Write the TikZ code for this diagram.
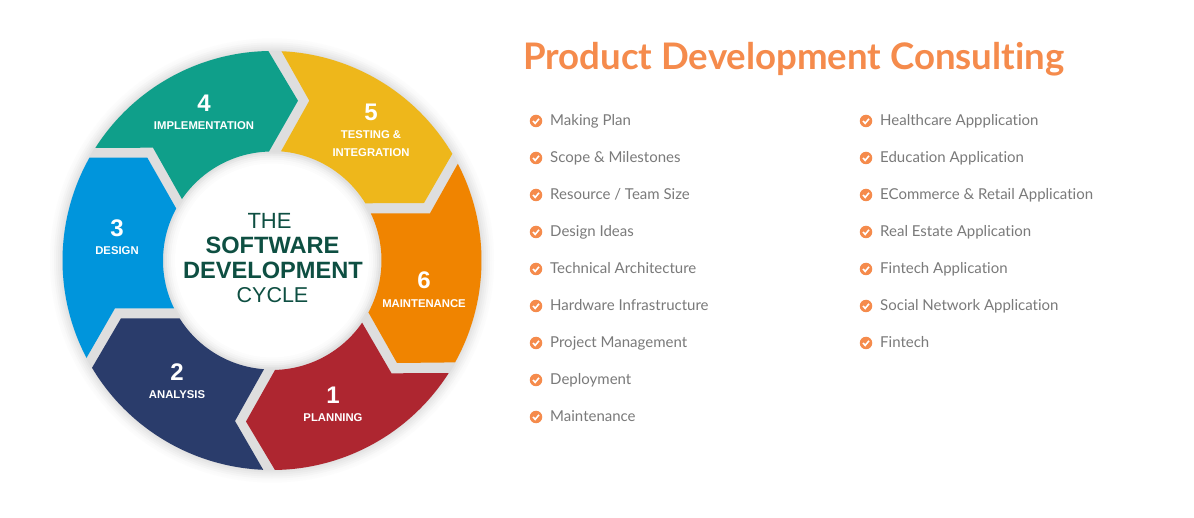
\documentclass[tikz,border=0pt]{standalone}
\usepackage{fontspec}
\setmainfont{Liberation Sans}
\newfontfamily\listfont[Ligatures=NoCommon]{Lato}
\usepackage{xcolor}
\definecolor{segred}{HTML}{AE2630}
\definecolor{segnavy}{HTML}{2A3C6B}
\definecolor{segblue}{HTML}{0095DC}
\definecolor{segteal}{HTML}{0F9F8A}
\definecolor{segyellow}{HTML}{EEB71B}
\definecolor{segorange}{HTML}{F08400}
\definecolor{hubgreen}{HTML}{0E4F42}
\definecolor{titleorange}{HTML}{F58B4C}
\definecolor{itemgray}{HTML}{7A7A7A}
\definecolor{gapgray}{HTML}{DEDEDE}
\begin{document}
\begin{tikzpicture}[
    x=1pt, y=1pt,
    num/.style={text=white, font=\fontsize{24}{24}\selectfont\bfseries, inner sep=0pt},
    lab/.style={text=white, font=\fontsize{11.3}{18}\selectfont\bfseries, inner sep=0pt, align=center},
    hub/.style={text=hubgreen, inner sep=0pt},
    item/.style={text=itemgray, font=\fontsize{15}{15}\listfont, anchor=west, inner sep=0pt},
    tick/.style={circle, fill=titleorange, minimum size=12.5pt, inner sep=0pt}
]
    \useasboundingbox (0,0) rectangle (1194,517);
    \fill[white] (0,0) rectangle (1194,517);

    \begin{scope}[shift={(272,256.5)}]
        % soft shadow round the ring
        \foreach \r/\g in {222/1, 220/2, 218/4, 216/6, 214/8, 212/10}
            \fill[black!\g!white] (0,0) circle[radius=\r];
        \fill[gapgray] (0,0) circle[radius=210];
        \foreach \r/\g in {109/12, 107/9, 105/6, 103/4, 101/2, 99/1, 97/0}
            \fill[black!\g!white] (0,0) circle[radius=\r];

        \fill[segteal] (147.5:209.5) arc[start angle=147.5, end angle=91, radius=209.5] -- (26,159.8)
            -- (91.6:109) arc[start angle=91.6, end angle=145.7, radius=109] -- (-119,112.8) -- cycle;
        \fill[segyellow] (87.4:209.5) arc[start angle=87.4, end angle=30.6, radius=209.5] -- (152,57.5)
            -- (31.5:109.5) arc[start angle=31.5, end angle=85.3, radius=109.5] -- (37.3,159.8) -- cycle;
        \fill[segorange] (27.5:209.5) arc[start angle=27.5, end angle=-29.1, radius=209.5] -- (125,-102.5)
            -- (-28.3:109.5) arc[start angle=-28.3, end angle=25.5, radius=109.5] -- (158,47.2) -- cycle;
        \fill[segred] (-32.5:209.5) arc[start angle=-32.5, end angle=-89.2, radius=209.5] -- (-26,-161)
            -- (-88.4:109.5) arc[start angle=-88.4, end angle=-34.6, radius=109.5] -- (119.5,-112.8) -- cycle;
        \fill[segnavy] (-92.4:209.5) arc[start angle=-92.4, end angle=-149.2, radius=209.5] -- (-151,-57.8)
            -- (-147.9:109) arc[start angle=-147.9, end angle=-94.2, radius=109] -- (-37,-160.5) -- cycle;
        \fill[segblue] (207.7:209.5) arc[start angle=207.7, end angle=150.6, radius=209.5] -- (-124.7,102.8)
            -- (151.5:109) arc[start angle=151.5, end angle=206, radius=109] -- (-157,-47.8) -- cycle;
    \end{scope}

    \node[num] (n4) at (204,413.5) {4};
    \node[lab] (l4) at (204,391) {IMPLEMENTATION};
    \node[num] (n5) at (371,404.5) {5};
    \node[lab] (l5) at (371,373) {TESTING \&\\INTEGRATION};
    \node[num] (n6) at (424,236.5) {6};
    \node[lab] (l6) at (424,213) {MAINTENANCE};
    \node[num] (n1) at (333,121.5) {1};
    \node[lab] (l1) at (333,99) {PLANNING};
    \node[num] (n2) at (177,144.5) {2};
    \node[lab] (l2) at (177,122) {ANALYSIS};
    \node[num] (n3) at (117,288.5) {3};
    \node[lab] (l3) at (117,266) {DESIGN};

    \node[hub, font=\fontsize{22}{22}\selectfont] (the) at (269.5,296.5) {THE};
    \node[hub, font=\fontsize{23.6}{24}\selectfont\bfseries] (soft) at (272.5,271.5) {SOFTWARE};
    \node[hub, font=\fontsize{23.6}{24}\selectfont\bfseries] (dev) at (273,246.5) {DEVELOPMENT};
    \node[hub, font=\fontsize{21.5}{22}\selectfont] (cycle) at (272.5,221.5) {CYCLE};

    \node[anchor=west, inner sep=0pt, text=titleorange, font=\fontsize{36.6}{37}\listfont\bfseries] (title) at (523,457.5) {Product Development Consulting};

    % left list
    \foreach \t [count=\i from 0] in {Making Plan, Scope \& Milestones, Resource / Team Size, Design Ideas, Technical Architecture, Hardware Infrastructure, Project Management, Deployment, Maintenance} {
        \node[tick] (lt\i) at (536,396-37*\i) {};
        \draw[white, line width=1.6pt] ([shift={(-3,0)}]lt\i.center) -- ([shift={(-0.8,-2.4)}]lt\i.center) -- ([shift={(3,2.2)}]lt\i.center);
        \node[item, anchor=base west] (li\i) at (550,391.5-37*\i) {\t};
    }
    % right list
    \foreach \t [count=\i from 0] in {Healthcare Appplication, Education Application, ECommerce \& Retail Application, Real Estate Application, Fintech Application, Social Network Application, Fintech} {
        \node[tick] (rt\i) at (866,396-37*\i) {};
        \draw[white, line width=1.6pt] ([shift={(-3,0)}]rt\i.center) -- ([shift={(-0.8,-2.4)}]rt\i.center) -- ([shift={(3,2.2)}]rt\i.center);
        \node[item, anchor=base west] (ri\i) at (880,391.5-37*\i) {\t};
    }
\end{tikzpicture}
\end{document}
